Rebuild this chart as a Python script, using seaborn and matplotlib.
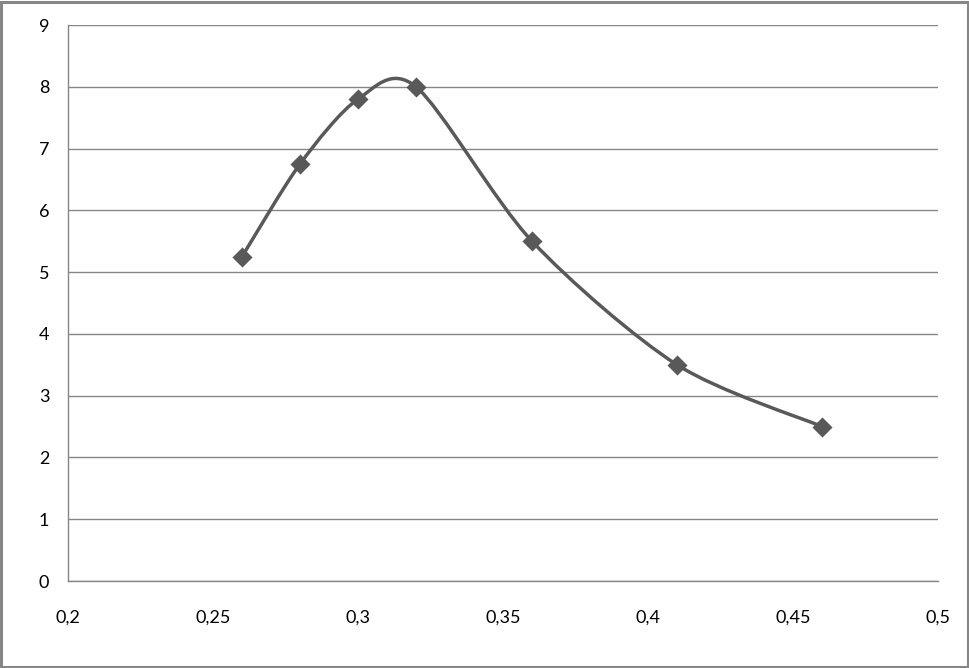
import numpy as np
import matplotlib
matplotlib.use("Agg")
import matplotlib.pyplot as plt
from matplotlib.path import Path
from matplotlib.patches import PathPatch, Rectangle
import seaborn as sns

x_vals = [0.26, 0.28, 0.30, 0.32, 0.36, 0.41, 0.46]
y_vals = [5.25, 6.75, 7.8, 8.0, 5.5, 3.5, 2.5]
x_ticks = [0.2, 0.25, 0.3, 0.35, 0.4, 0.45, 0.5]
x_labels = ["0,2", "0,25", "0,3", "0,35", "0,4", "0,45", "0,5"]
y_ticks = list(range(0, 10))

sns.set_style("white")
plt.rcParams['font.family'] = ['Lato', 'DejaVu Sans']

line_col = "#595959"
grid_col = "#868686"

fig = plt.figure(figsize=(9.7, 6.68), dpi=100)
ax = fig.add_axes([68 / 970, 1 - 581 / 668, 870 / 970, 556 / 668])


# smoothed line like the spreadsheet one: cubic bezier, catmull-rom style control points
def smooth_path(xs, ys, k=1 / 7):
    pts = np.column_stack([xs, ys])
    verts = [pts[0]]
    codes = [Path.MOVETO]
    n = len(pts)
    for i in range(n - 1):
        p0 = pts[max(i - 1, 0)]
        p1 = pts[i]
        p2 = pts[i + 1]
        p3 = pts[min(i + 2, n - 1)]
        c1 = p1 + (p2 - p0) * k
        c2 = p2 - (p3 - p1) * k
        verts += [c1, c2, p2]
        codes += [Path.CURVE4] * 3
    return Path(verts, codes)


ax.add_patch(PathPatch(smooth_path(x_vals, y_vals), facecolor="none",
                       edgecolor=line_col, lw=2.5, zorder=3, capstyle="round"))
sns.scatterplot(x=x_vals, y=y_vals, marker="D", s=105, color=line_col,
                edgecolor=line_col, linewidth=0, ax=ax, zorder=4)

ax.set_xlim(0.2, 0.5)
ax.set_ylim(0, 9)
ax.set_xticks(x_ticks)
ax.set_xticklabels(x_labels)
ax.set_yticks(y_ticks)
ax.yaxis.grid(True, color=grid_col, lw=1)
ax.set_axisbelow(True)
for s in ["top", "right"]:
    ax.spines[s].set_visible(False)
for s in ["left", "bottom"]:
    ax.spines[s].set_color(grid_col)
    ax.spines[s].set_linewidth(1)
ax.tick_params(axis="both", which="major", direction="out", length=4.5, width=1,
               color=grid_col, labelsize=13, labelcolor="#000000")
ax.tick_params(axis="y", pad=9)
ax.tick_params(axis="x", pad=16)

fig.patches.append(Rectangle((0.001, 0.0015), 0.997, 0.996, transform=fig.transFigure,
                             fill=False, edgecolor=grid_col, lw=2.2))

fig.savefig("out.png", dpi=100)
